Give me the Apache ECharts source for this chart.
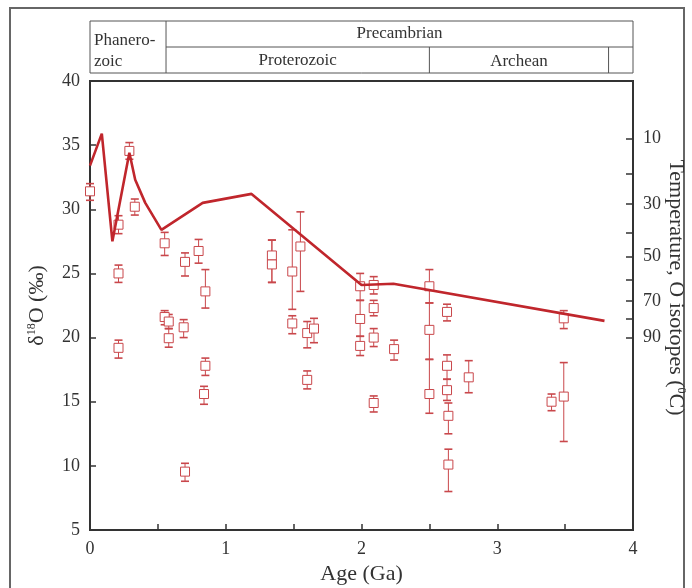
<!DOCTYPE html>
<html>
<head>
<meta charset="utf-8">
<script src="https://cdn.jsdelivr.net/npm/echarts@6/dist/echarts.min.js"></script>
<style>
  html, body { margin:0; padding:0; background:#fff; }
  #chart { width:692px; height:588px; }
</style>
</head>
<body>
<div id="chart"></div>
<script>
// model curve (seawater / chert d18O trend)
const lineAge  = [0, 0.087, 0.165, 0.29, 0.333, 0.407, 0.526, 0.83, 1.19, 2.0, 2.235, 3.79];
const lineD18O = [33.4, 35.9, 27.5, 34.4, 32.3, 30.5, 28.4, 30.5, 31.2, 24.1, 24.2, 21.3];

// measured points: age, d18O, error low, error high
const ptAge = [0.00, 0.21, 0.21, 0.21, 0.29, 0.33, 0.55, 0.55, 0.58, 0.58, 0.70, 0.69, 0.70,
  0.80, 0.85, 0.85, 0.84, 1.34, 1.34, 1.49, 1.55, 1.49, 1.60, 1.65, 1.60,
  1.99, 2.09, 2.09, 1.99, 2.09, 1.99, 2.24, 2.09, 2.50, 2.50, 2.50,
  2.63, 2.63, 2.63, 2.64, 2.64, 2.79, 3.40, 3.49, 3.49];
const ptD18O = [31.4, 28.8, 25.0, 19.2, 34.55, 30.2, 27.35, 21.6, 21.25, 19.95, 25.9, 20.8, 9.55,
  26.75, 23.6, 17.8, 15.6, 26.4, 25.7, 25.15, 27.1, 21.1, 20.35, 20.7, 16.7,
  24.0, 24.1, 22.3, 21.45, 20.0, 19.35, 19.1, 14.9, 24.0, 20.6, 15.6,
  22.0, 17.8, 15.9, 13.9, 10.1, 16.9, 15.0, 21.5, 15.4];
const ptLow = [30.7, 28.1, 24.3, 18.4, 33.9, 29.55, 26.4, 21.0, 20.7, 19.25, 24.8, 20.0, 8.8,
  25.8, 22.3, 17.05, 14.8, 24.3, 24.3, 22.2, 23.6, 20.3, 19.2, 19.6, 16.0,
  22.9, 23.4, 21.7, 20.1, 19.3, 18.6, 18.25, 14.2, 22.7, 18.3, 14.1,
  21.3, 16.75, 15.1, 12.5, 8.0, 15.7, 14.3, 20.7, 11.9];
const ptHigh = [32.0, 29.5, 25.65, 19.8, 35.2, 30.8, 28.2, 22.1, 21.8, 20.7, 26.6, 21.4, 10.2,
  27.65, 25.3, 18.4, 16.2, 27.6, 27.6, 28.4, 29.8, 21.7, 21.25, 21.5, 17.4,
  25.0, 24.75, 22.9, 22.9, 20.7, 20.1, 19.8, 15.45, 25.3, 22.7, 18.3,
  22.6, 18.65, 16.75, 14.9, 11.3, 18.2, 15.6, 22.1, 18.05];

// temperature scale on the right: positions in d18O units
const tempTickPos   = [35.5, 32.8, 30.4, 28.2, 26.3, 24.5, 22.85, 21.45, 20.0];
const tempLabelPos  = [35.5, 30.4, 26.3, 22.85, 20.0];
const tempLabels    = ['10', '30', '50', '70', '90'];

// geologic time header
const eraBounds = [0, 0.56, 2.5, 3.82, 4];
const eonNames = ['Proterozoic', 'Archean'];

const LINE_C = '#c0262c';
const PT_C = '#c9474b';
const AX_C = '#333';
const FONT = 'Liberation Serif';

const chart = echarts.init(document.getElementById('chart'));

const pts = ptAge.map((a, i) => [a, ptD18O[i], ptLow[i], ptHigh[i]]);

chart.setOption({
  animation: false,
  grid: { left: 90, right: 59, top: 81, bottom: 58, outerBoundsMode: 'none',
    show: true, borderColor: AX_C, borderWidth: 2 },
  textStyle: { fontFamily: FONT },
  xAxis: {
    type: 'value', min: 0, max: 4, interval: 1,
    axisLine: { lineStyle: { color: AX_C, width: 2 } },
    axisTick: { inside: true, length: 6, lineStyle: { color: AX_C, width: 1.5 } },
    minorTick: { show: true, splitNumber: 2, length: 6, lineStyle: { color: AX_C, width: 1.5 } },
    axisLabel: { color: AX_C, fontFamily: FONT, fontSize: 18, margin: 10 },
    splitLine: { show: false },
    name: 'Age (Ga)', nameLocation: 'middle', nameGap: 30,
    nameTextStyle: { color: AX_C, fontFamily: FONT, fontSize: 22 }
  },
  yAxis: [{
    type: 'value', min: 5, max: 40, interval: 5,
    axisLine: { lineStyle: { color: AX_C, width: 2 } },
    axisTick: { inside: true, length: 6, lineStyle: { color: AX_C, width: 1.5 } },
    axisLabel: { color: AX_C, fontFamily: FONT, fontSize: 18, margin: 10 },
    splitLine: { show: false },
    name: '{a|δ}{s|18}{a|O (‰)}', nameLocation: 'middle', nameGap: 42,
    nameTextStyle: { color: AX_C, fontFamily: FONT, fontSize: 22,
      rich: { a: { fontFamily: FONT, fontSize: 22, color: AX_C }, s: { fontFamily: FONT, fontSize: 12, color: AX_C, verticalAlign: 'top', padding: [0, 0, 10, 0] } } }
  }, {
    type: 'value', min: 5, max: 40, position: 'right',
    axisLine: { show: true, lineStyle: { color: AX_C, width: 2 } },
    axisTick: { show: true, inside: true, length: 7, customValues: tempTickPos, lineStyle: { color: AX_C, width: 1.5 } },
    axisLabel: { color: AX_C, fontFamily: FONT, fontSize: 18, margin: 10, customValues: tempLabelPos,
      formatter: v => { const i = tempLabelPos.findIndex(p => Math.abs(p - v) < 1e-6); return i < 0 ? '' : tempLabels[i]; } },
    splitLine: { show: false },
    name: '{a|Temperature, O isotopes (}{s|0}{a|C)}', nameLocation: 'middle', nameGap: 32, nameRotate: -90,
    nameMoveOverlap: false,
    nameTextStyle: { color: AX_C, fontFamily: FONT, fontSize: 22, padding: [0, 36, 0, 0],
      rich: { a: { fontFamily: FONT, fontSize: 22, color: AX_C }, s: { fontFamily: FONT, fontSize: 12, color: AX_C, verticalAlign: 'top', padding: [0, 0, 10, 0] } } }
  }],
  series: [{
    type: 'custom',
    data: pts,
    encode: { x: 0, y: [2, 3] },
    z: 2,
    renderItem: (params, api) => {
      const x = api.value(0);
      const top = api.coord([x, api.value(3)]);
      const bot = api.coord([x, api.value(2)]);
      const w = 4;
      const st = { stroke: PT_C, lineWidth: 1 };
      const cap = { stroke: PT_C, lineWidth: 1.6 };
      return { type: 'group', children: [
        { type: 'line', shape: { x1: top[0], y1: top[1], x2: bot[0], y2: bot[1] }, style: st },
        { type: 'line', shape: { x1: top[0] - w, y1: top[1], x2: top[0] + w, y2: top[1] }, style: cap },
        { type: 'line', shape: { x1: bot[0] - w, y1: bot[1], x2: bot[0] + w, y2: bot[1] }, style: cap }
      ] };
    }
  }, {
    type: 'scatter',
    data: pts.map(p => [p[0], p[1]]),
    symbol: 'rect', symbolSize: [9, 9],
    itemStyle: { color: '#fff', borderColor: PT_C, borderWidth: 1, opacity: 1 },
    z: 3
  }, {
    type: 'line',
    data: lineAge.map((a, i) => [a, lineD18O[i]]),
    showSymbol: false, symbol: 'none',
    lineStyle: { color: LINE_C, width: 2.6 },
    z: 4
  }]
});

// header table of geologic time, placed with the x axis scale
const px = v => chart.convertToPixel({ xAxisIndex: 0 }, v);
const X = eraBounds.map(px);
const yTop = 21, yMid = 47, yBot = 73;
const HC = '#555';
const ln = (x1, y1, x2, y2) => ({ type: 'line', shape: { x1, y1, x2, y2 }, style: { stroke: HC, lineWidth: 1 } });
const tx = (text, x, y, align) => ({ type: 'text', x, y,
  style: { text, fill: '#333', font: '17px "Liberation Serif"', textAlign: align, textVerticalAlign: 'middle' } });

chart.setOption({
  graphic: [
    { type: 'rect', shape: { x: 10, y: 8, width: 674, height: 620 }, style: { fill: 'none', stroke: '#666', lineWidth: 2 } },
    { type: 'rect', shape: { x: X[0], y: yTop, width: X[4] - X[0], height: yBot - yTop }, style: { fill: 'none', stroke: HC, lineWidth: 1 } },
    ln(X[1], yMid, X[4], yMid),
    ln(X[1], yTop, X[1], yBot),
    ln(X[2], yMid, X[2], yBot),
    ln(X[3], yMid, X[3], yBot),
    tx('Phanero-', X[0] + 4, 41, 'left'),
    tx('zoic', X[0] + 4, 62, 'left'),
    tx('Precambrian', (X[1] + X[4]) / 2, 34, 'center'),
    tx(eonNames[0], (X[1] + X[2]) / 2, 61, 'center'),
    tx(eonNames[1], (X[2] + X[3]) / 2, 62, 'center')
  ]
});
</script>
</body>
</html>
